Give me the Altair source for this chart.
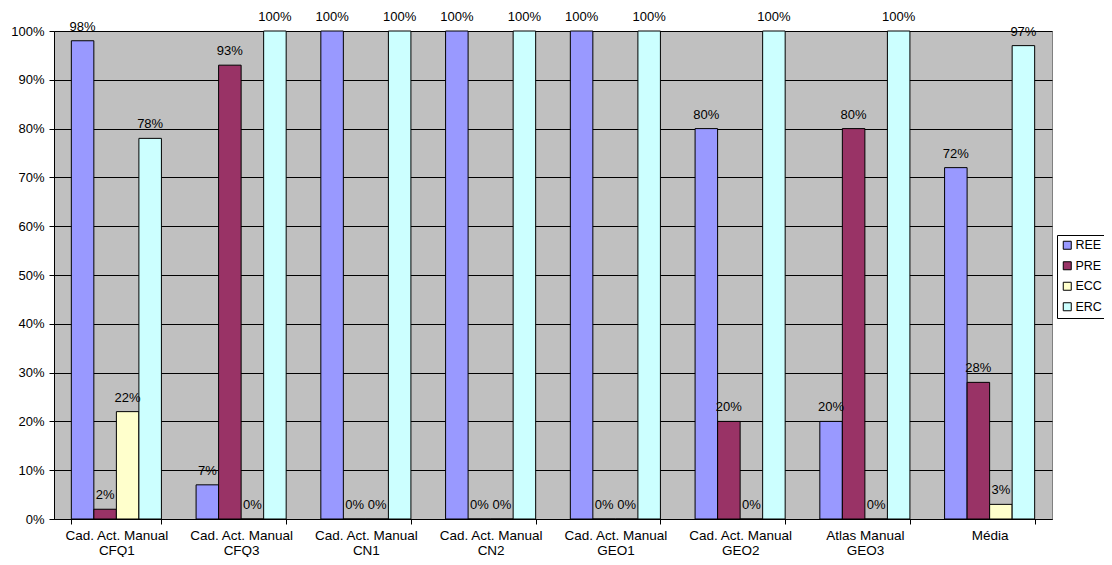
import altair as alt
import pandas as pd

categories = [
    "Cad. Act. Manual|CFQ1",
    "Cad. Act. Manual|CFQ3",
    "Cad. Act. Manual|CN1",
    "Cad. Act. Manual|CN2",
    "Cad. Act. Manual|GEO1",
    "Cad. Act. Manual|GEO2",
    "Atlas Manual|GEO3",
    "Média",
]
series = ["REE", "PRE", "ECC", "ERC"]
ree = [98, 7, 100, 100, 100, 80, 20, 72]
pre = [2, 93, 0, 0, 0, 20, 80, 28]
ecc = [22, 0, 0, 0, 0, 0, 0, 3]
erc = [78, 100, 100, 100, 100, 100, 100, 97]
colors = ["#9999FF", "#993366", "#FFFFCC", "#CCFFFF"]
y_ticks = [0, 0.1, 0.2, 0.3, 0.4, 0.5, 0.6, 0.7, 0.8, 0.9, 1.0]

rows = []
for i, c in enumerate(categories):
    for s, vals in zip(series, [ree, pre, ecc, erc]):
        rows.append({"cat": c, "series": s, "value": vals[i] / 100})
df = pd.DataFrame(rows)

FONT = "Liberation Sans"

x = alt.X(
    "cat:N",
    sort=categories,
    scale=alt.Scale(paddingInner=0.278, paddingOuter=0.139),
    axis=alt.Axis(
        title=None,
        labelAngle=0,
        labelExpr="isValid(datum.value) ? split(datum.value, '|') : ''",
        tickBand="extent",
        ticks=True,
        tickSize=5,
        tickColor="black",
        domainColor="black",
        labelFontSize=13.5,
        labelLineHeight=15,
        labelPadding=4,
        labelColor="black",
        labelBaseline="top",
        grid=False,
        labelFont=FONT,
    ),
)
xo = alt.XOffset("series:N", sort=series, scale=alt.Scale(paddingInner=0, paddingOuter=0))
y = alt.Y(
    "value:Q",
    scale=alt.Scale(domain=[0, 1], nice=False),
    axis=alt.Axis(
        title=None,
        format=".0%",
        values=y_ticks,
        grid=True,
        gridColor="black",
        gridWidth=1,
        gridOpacity=1,
        tickColor="black",
        tickSize=5,
        domainColor="black",
        labelFontSize=13,
        labelPadding=5,
        labelColor="black",
        labelFont=FONT,
    ),
)

bars = alt.Chart(df).mark_bar(stroke="black", strokeWidth=1).encode(
    x=x,
    xOffset=xo,
    y=y,
    color=alt.Color(
        "series:N",
        sort=series,
        scale=alt.Scale(domain=series, range=colors),
        legend=alt.Legend(
            title=None,
            orient="none",
            legendX=1003,
            legendY=204,
            strokeColor="black",
            fillColor="white",
            padding=4,
            symbolType="square",
            symbolSize=64,
            symbolStrokeColor="black",
            symbolStrokeWidth=1,
            symbolOpacity=1,
            labelFontSize=12.5,
            labelFont=FONT,
            labelColor="black",
            rowPadding=7.5,
            labelOffset=2,
        ),
    ),
)

labels = alt.Chart(df).mark_text(
    dy=-10, baseline="alphabetic", fontSize=13, font=FONT, color="black"
).encode(
    x=x,
    xOffset=xo,
    y=y,
    text=alt.Text("value:Q", format=".0%"),
)

chart = (
    (bars + labels)
    .properties(
        width=998,
        height=488,
        padding={"left": 46, "top": 23, "right": 52, "bottom": 38},
        autosize=alt.AutoSizeParams(type="none"),
    )
    .configure(font=FONT)
    .configure_view(fill="#C0C0C0", stroke="#808080", strokeWidth=1)
)

chart.save("out.html", embed_options={"renderer": "svg", "actions": False})
